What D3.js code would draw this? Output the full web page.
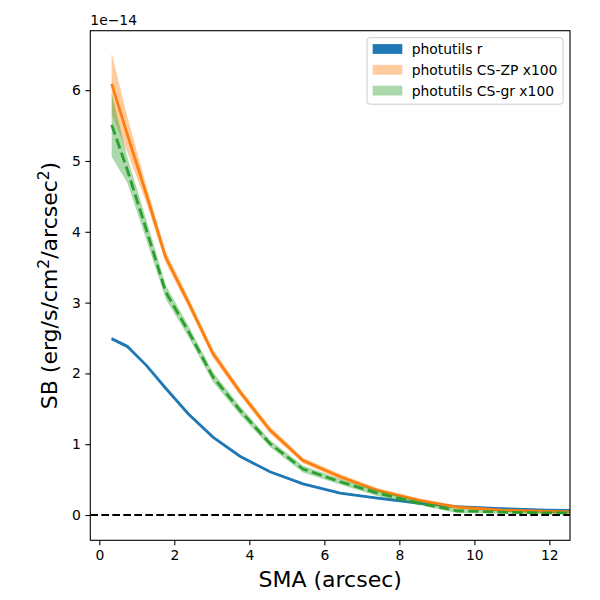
<!DOCTYPE html>
<html lang="en">
<head>
    <meta charset="UTF-8">
    <title>SB profiles</title>
    <style>
        body { margin: 0; background: #fff; }
        text { font-family: "DejaVu Sans", sans-serif; fill: #000; }
    </style>
</head>
<body>
    <svg width="600" height="600"></svg>
    <script src="https://d3js.org/d3.v7.min.js"></script>
    <script>
        // surface brightness in units of 1e-14 erg/s/cm^2/arcsec^2
        var sma = [0.33, 0.75, 1.26, 1.77, 2.37, 3.03, 3.75, 4.55, 5.43, 6.42, 7.41, 8.5, 9.54, 10.7, 11.9, 13.1];
        var sbR = [2.49, 2.38, 2.11, 1.79, 1.43, 1.10, 0.83, 0.61, 0.44, 0.31, 0.24, 0.17, 0.12, 0.09, 0.07, 0.06];
        var errR = [0.02, 0.02, 0.01, 0.01, 0.01, 0.01, 0.01, 0.01, 0.01, 0.01, 0.01, 0.01, 0.01, 0.01, 0.01, 0.01];
        var sbZP = [6.09, 5.37, 4.52, 3.64, 3.01, 2.28, 1.74, 1.20, 0.77, 0.54, 0.35, 0.21, 0.11, 0.07, 0.05, 0.04];
        var errZP = [0.43, 0.25, 0.12, 0.08, 0.07, 0.06, 0.05, 0.05, 0.04, 0.04, 0.03, 0.03, 0.02, 0.02, 0.02, 0.02];
        var sbGR = [5.51, 4.87, 4.02, 3.15, 2.60, 1.95, 1.48, 1.01, 0.65, 0.47, 0.31, 0.17, 0.06, 0.04, 0.03, 0.03];
        var errGR = [0.45, 0.18, 0.14, 0.10, 0.08, 0.07, 0.06, 0.05, 0.05, 0.04, 0.04, 0.03, 0.03, 0.02, 0.02, 0.02];

        var xTicks = [0, 2, 4, 6, 8, 10, 12];
        var yTicks = [0, 1, 2, 3, 4, 5, 6];
        var legendLabels = ["photutils r", "photutils CS-ZP x100", "photutils CS-gr x100"];

        var margin = { left: 90.3, right: 30, top: 30.7, bottom: 59.7 };
        var svg = d3.select("svg"),
            width = +svg.attr("width"),
            height = +svg.attr("height");

        var x = d3.scaleLinear().domain([-0.24, 12.55]).range([margin.left, width - margin.right]);
        var y = d3.scaleLinear().domain([-0.357, 6.84]).range([height - margin.bottom, margin.top]);

        svg.append("clipPath").attr("id", "clip")
            .append("rect")
            .attr("x", x.range()[0]).attr("y", y.range()[1])
            .attr("width", x.range()[1] - x.range()[0])
            .attr("height", y.range()[0] - y.range()[1]);

        var plot = svg.append("g").attr("clip-path", "url(#clip)");

        var series = [
            { sb: sbR, err: errR, color: "#1f77b4", alpha: 1, dash: null },
            { sb: sbZP, err: errZP, color: "#ff7f0e", alpha: 0.4, dash: null },
            { sb: sbGR, err: errGR, color: "#2ca02c", alpha: 0.4, dash: "10.3,4.4" }
        ];

        var area = d3.area()
            .x((d) => x(d.x))
            .y0((d) => y(d.v - d.e))
            .y1((d) => y(d.v + d.e));

        var line = d3.line()
            .x((d) => x(d.x))
            .y((d) => y(d.v));

        series.forEach(function (s) {
            var pts = sma.map((v, i) => ({ x: v, v: s.sb[i], e: s.err[i] }));
            plot.append("path")
                .attr("d", area(pts))
                .style("fill", s.color)
                .style("fill-opacity", s.alpha)
                .style("stroke", "none");
            plot.append("path")
                .attr("d", line(pts))
                .style("fill", "none")
                .style("stroke", s.color)
                .style("stroke-width", 2.8)
                .style("stroke-dasharray", s.dash);
        });

        // zero line
        plot.append("line")
            .attr("x1", x.range()[0]).attr("x2", x.range()[1])
            .attr("y1", y(0)).attr("y2", y(0))
            .style("stroke", "#000")
            .style("stroke-width", 2.1)
            .style("stroke-dasharray", "7.7,3.3");

        // axes
        var xAxis = svg.append("g")
            .attr("transform", "translate(0," + y.range()[0] + ")")
            .call(d3.axisBottom(x).tickValues(xTicks).tickSize(4.9).tickPadding(4.5));
        var yAxis = svg.append("g")
            .attr("transform", "translate(" + x.range()[0] + ",0)")
            .call(d3.axisLeft(y).tickValues(yTicks).tickSize(4.9).tickPadding(4.5));

        [xAxis, yAxis].forEach(function (g) {
            g.select(".domain").remove();
            g.selectAll(".tick line").style("stroke", "#000").style("stroke-width", 1.1);
            g.selectAll(".tick text")
                .style("font-family", "DejaVu Sans")
                .style("font-size", "13.9px")
                .style("fill", "#000");
        });

        svg.append("rect")
            .attr("x", x.range()[0]).attr("y", y.range()[1])
            .attr("width", x.range()[1] - x.range()[0])
            .attr("height", y.range()[0] - y.range()[1])
            .style("fill", "none")
            .style("stroke", "#000")
            .style("stroke-width", 1.1);

        // offset text
        svg.append("text")
            .attr("x", x.range()[0])
            .attr("y", 25)
            .style("font-size", "13.9px")
            .text("1e\u221214");

        // axis labels
        svg.append("text")
            .attr("x", (x.range()[0] + x.range()[1]) / 2)
            .attr("y", 587)
            .style("font-size", "22px")
            .style("text-anchor", "middle")
            .text("SMA (arcsec)");

        var yl = svg.append("text")
            .attr("transform", "translate(57," + ((y.range()[0] + y.range()[1]) / 2) + ") rotate(-90)")
            .style("font-size", "22px")
            .style("text-anchor", "middle");
        yl.append("tspan").text("SB (erg/s/cm");
        yl.append("tspan").attr("dy", -8).style("font-size", "15.4px").text("2");
        yl.append("tspan").attr("dy", 8).text("/arcsec");
        yl.append("tspan").attr("dy", -8).style("font-size", "15.4px").text("2");
        yl.append("tspan").attr("dy", 8).text(")");

        // legend
        var leg = svg.append("g").attr("transform", "translate(367,37.7)");
        leg.append("rect")
            .attr("width", 196).attr("height", 66.5)
            .attr("rx", 3)
            .style("fill", "#fff")
            .style("fill-opacity", 0.8)
            .style("stroke", "#ccc")
            .style("stroke-width", 1);
        legendLabels.forEach(function (lab, i) {
            var s = series[i];
            var row = leg.append("g").attr("transform", "translate(0," + (11.3 + i * 20.8) + ")");
            row.append("rect")
                .attr("x", 5.7).attr("y", -4.9)
                .attr("width", 29.6).attr("height", 9.8)
                .style("fill", s.color)
                .style("fill-opacity", s.alpha);
            row.append("text")
                .attr("x", 44.7).attr("y", 5)
                .style("font-size", "13.9px")
                .text(lab);
        });
    </script>
</body>
</html>
